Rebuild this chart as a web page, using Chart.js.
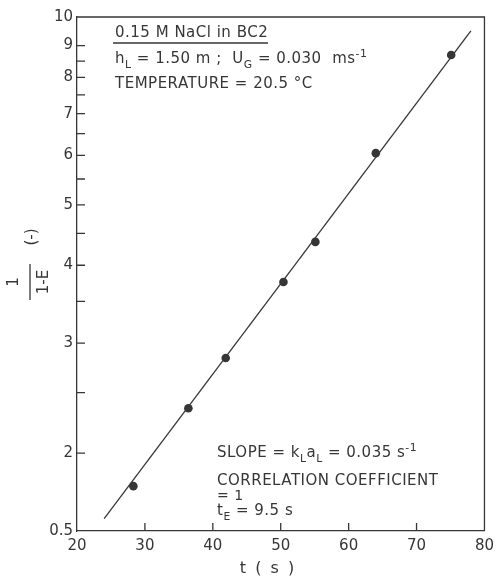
<!DOCTYPE html>
<html>
<head>
<meta charset="utf-8">
<script src="https://cdn.jsdelivr.net/npm/chart.js@4.4.1/dist/chart.umd.min.js"></script>
<style>
  html, body { margin: 0; padding: 0; background: #fff; }
</style>
</head>
<body>
<canvas id="grafica" width="500" height="577"></canvas>
<script>
// mediciones: tiempo (s) y 1/(1-E)
const tiempos = [28.3, 36.4, 41.9, 50.4, 55.1, 64.0, 75.1];
const valores = [1.77, 2.36, 2.84, 3.76, 4.36, 6.05, 8.69];

// recta ajustada (extremos)
const ajusteT = [24, 78];
const ajusteV = [1.57, 9.5];

const ticksX = [20, 30, 40, 50, 60, 70, 80];
const ticksY = [1.5, 2, 2.5, 3, 3.5, 4, 4.5, 5, 5.5, 6, 6.5, 7, 7.5, 8, 8.5, 9, 10];
const etiquetasY = { 1.5: '0.5', 2: '2', 3: '3', 4: '4', 5: '5', 6: '6', 7: '7', 8: '8', 9: '9', 10: '10' };

const TINTA = '#363636';
const FUENTE = '"DejaVu Sans", sans-serif';

// texto con subindices / superindices
function textoCompuesto(ctx, partes, x, y, tam) {
  let cx = x;
  for (const p of partes) {
    const t = p.sub || p.sup ? tam * 0.72 : tam;
    ctx.font = `${t}px ${FUENTE}`;
    const dy = p.sub ? tam * 0.3 : (p.sup ? -tam * 0.42 : 0);
    ctx.fillText(p.t, cx, y + dy);
    cx += ctx.measureText(p.t).width;
  }
  return cx;
}

const marcas = {
  id: 'marcas',
  afterDraw(chart) {
    const ctx = chart.ctx;
    const a = chart.chartArea;
    const sx = chart.scales.x;
    const sy = chart.scales.y;
    ctx.save();
    ctx.strokeStyle = TINTA;
    ctx.fillStyle = TINTA;
    ctx.lineWidth = 1.3;

    // marco superior y derecho
    ctx.beginPath();
    ctx.moveTo(a.left, a.top);
    ctx.lineTo(a.right, a.top);
    ctx.lineTo(a.right, a.bottom);
    ctx.stroke();

    // marcas hacia dentro
    ctx.beginPath();
    ticksX.slice(1, -1).forEach(v => {
      const px = sx.getPixelForValue(v);
      ctx.moveTo(px, a.bottom);
      ctx.lineTo(px, a.bottom - 8);
    });
    ticksY.slice(1, -1).forEach(v => {
      const py = sy.getPixelForValue(v);
      ctx.moveTo(a.left, py);
      ctx.lineTo(a.left + 8, py);
    });
    ctx.stroke();

    // anotaciones
    const tam = 15;
    ctx.textBaseline = 'alphabetic';
    ctx.textAlign = 'left';
    ctx.letterSpacing = '0.5px';
    textoCompuesto(ctx, [{ t: '0.15 M NaCl in BC2' }], 115, 37, tam);
    ctx.beginPath();
    ctx.moveTo(113, 43);
    ctx.lineTo(268, 43);
    ctx.stroke();
    textoCompuesto(ctx, [{ t: 'h' }, { t: 'L', sub: true }, { t: ' = 1.50 m ;  U' }, { t: 'G', sub: true },
      { t: ' = 0.030  ms' }, { t: '-1', sup: true }], 115, 63, tam);
    textoCompuesto(ctx, [{ t: 'TEMPERATURE = 20.5 °C' }], 115, 88, tam);

    textoCompuesto(ctx, [{ t: 'SLOPE = k' }, { t: 'L', sub: true }, { t: 'a' }, { t: 'L', sub: true },
      { t: ' = 0.035 s' }, { t: '-1', sup: true }], 217, 457, tam);
    textoCompuesto(ctx, [{ t: 'CORRELATION COEFFICIENT' }], 217, 485, tam);
    textoCompuesto(ctx, [{ t: '= 1' }], 217, 500, 14);
    textoCompuesto(ctx, [{ t: 't' }, { t: 'E', sub: true }, { t: ' = 9.5 s' }], 217, 515, tam);

    // titulo eje x
    ctx.textAlign = 'center';
    ctx.font = `16px ${FUENTE}`;
    ctx.letterSpacing = '2px';
    ctx.fillText('t ( s )', 268, 573);

    // titulo eje y: 1 / (1-E) (-), girado
    ctx.letterSpacing = '0px';
    ctx.translate(30, 282);
    ctx.rotate(-Math.PI / 2);
    ctx.textBaseline = 'middle';
    ctx.font = `15px ${FUENTE}`;
    ctx.fillText('1', 0, -16);
    ctx.beginPath();
    ctx.moveTo(-18, 0);
    ctx.lineTo(18, 0);
    ctx.stroke();
    ctx.fillText('1-E', 0, 14);
    ctx.fillText('(-)', 45, 2);
    ctx.restore();
  }
};

const ctx = document.getElementById('grafica').getContext('2d');
new Chart(ctx, {
  type: 'scatter',
  data: {
    datasets: [
      {
        data: tiempos.map((t, i) => ({ x: t, y: valores[i] })),
        pointRadius: 4.3,
        pointBackgroundColor: TINTA,
        pointBorderWidth: 0
      },
      {
        type: 'line',
        data: ajusteT.map((t, i) => ({ x: t, y: ajusteV[i] })),
        borderColor: TINTA,
        borderWidth: 1.3,
        pointRadius: 0,
        fill: false
      }
    ]
  },
  options: {
    responsive: false,
    animation: false,
    layout: { padding: { top: 17, right: 3, left: 0, bottom: 0 } },
    plugins: { legend: { display: false }, tooltip: { enabled: false } },
    scales: {
      x: {
        type: 'linear',
        min: 20,
        max: 80,
        afterFit: s => { s.height = 46; },
        afterBuildTicks: s => { s.ticks = ticksX.map(v => ({ value: v })); },
        grid: { display: false, drawTicks: false },
        border: { display: true, color: TINTA, width: 1.3 },
        ticks: { color: TINTA, font: { size: 15, family: FUENTE }, padding: 6, maxRotation: 0 }
      },
      y: {
        type: 'logarithmic',
        min: 1.5,
        max: 10,
        afterFit: s => { s.width = 77; },
        afterBuildTicks: s => { s.ticks = ticksY.map(v => ({ value: v })); },
        grid: { display: false, drawTicks: false },
        border: { display: true, color: TINTA, width: 1.3 },
        ticks: {
          color: TINTA,
          font: { size: 15, family: FUENTE },
          padding: 4,
          autoSkip: false,
          callback: v => etiquetasY[v] ?? ''
        }
      }
    }
  },
  plugins: [marcas]
});
</script>
</body>
</html>
